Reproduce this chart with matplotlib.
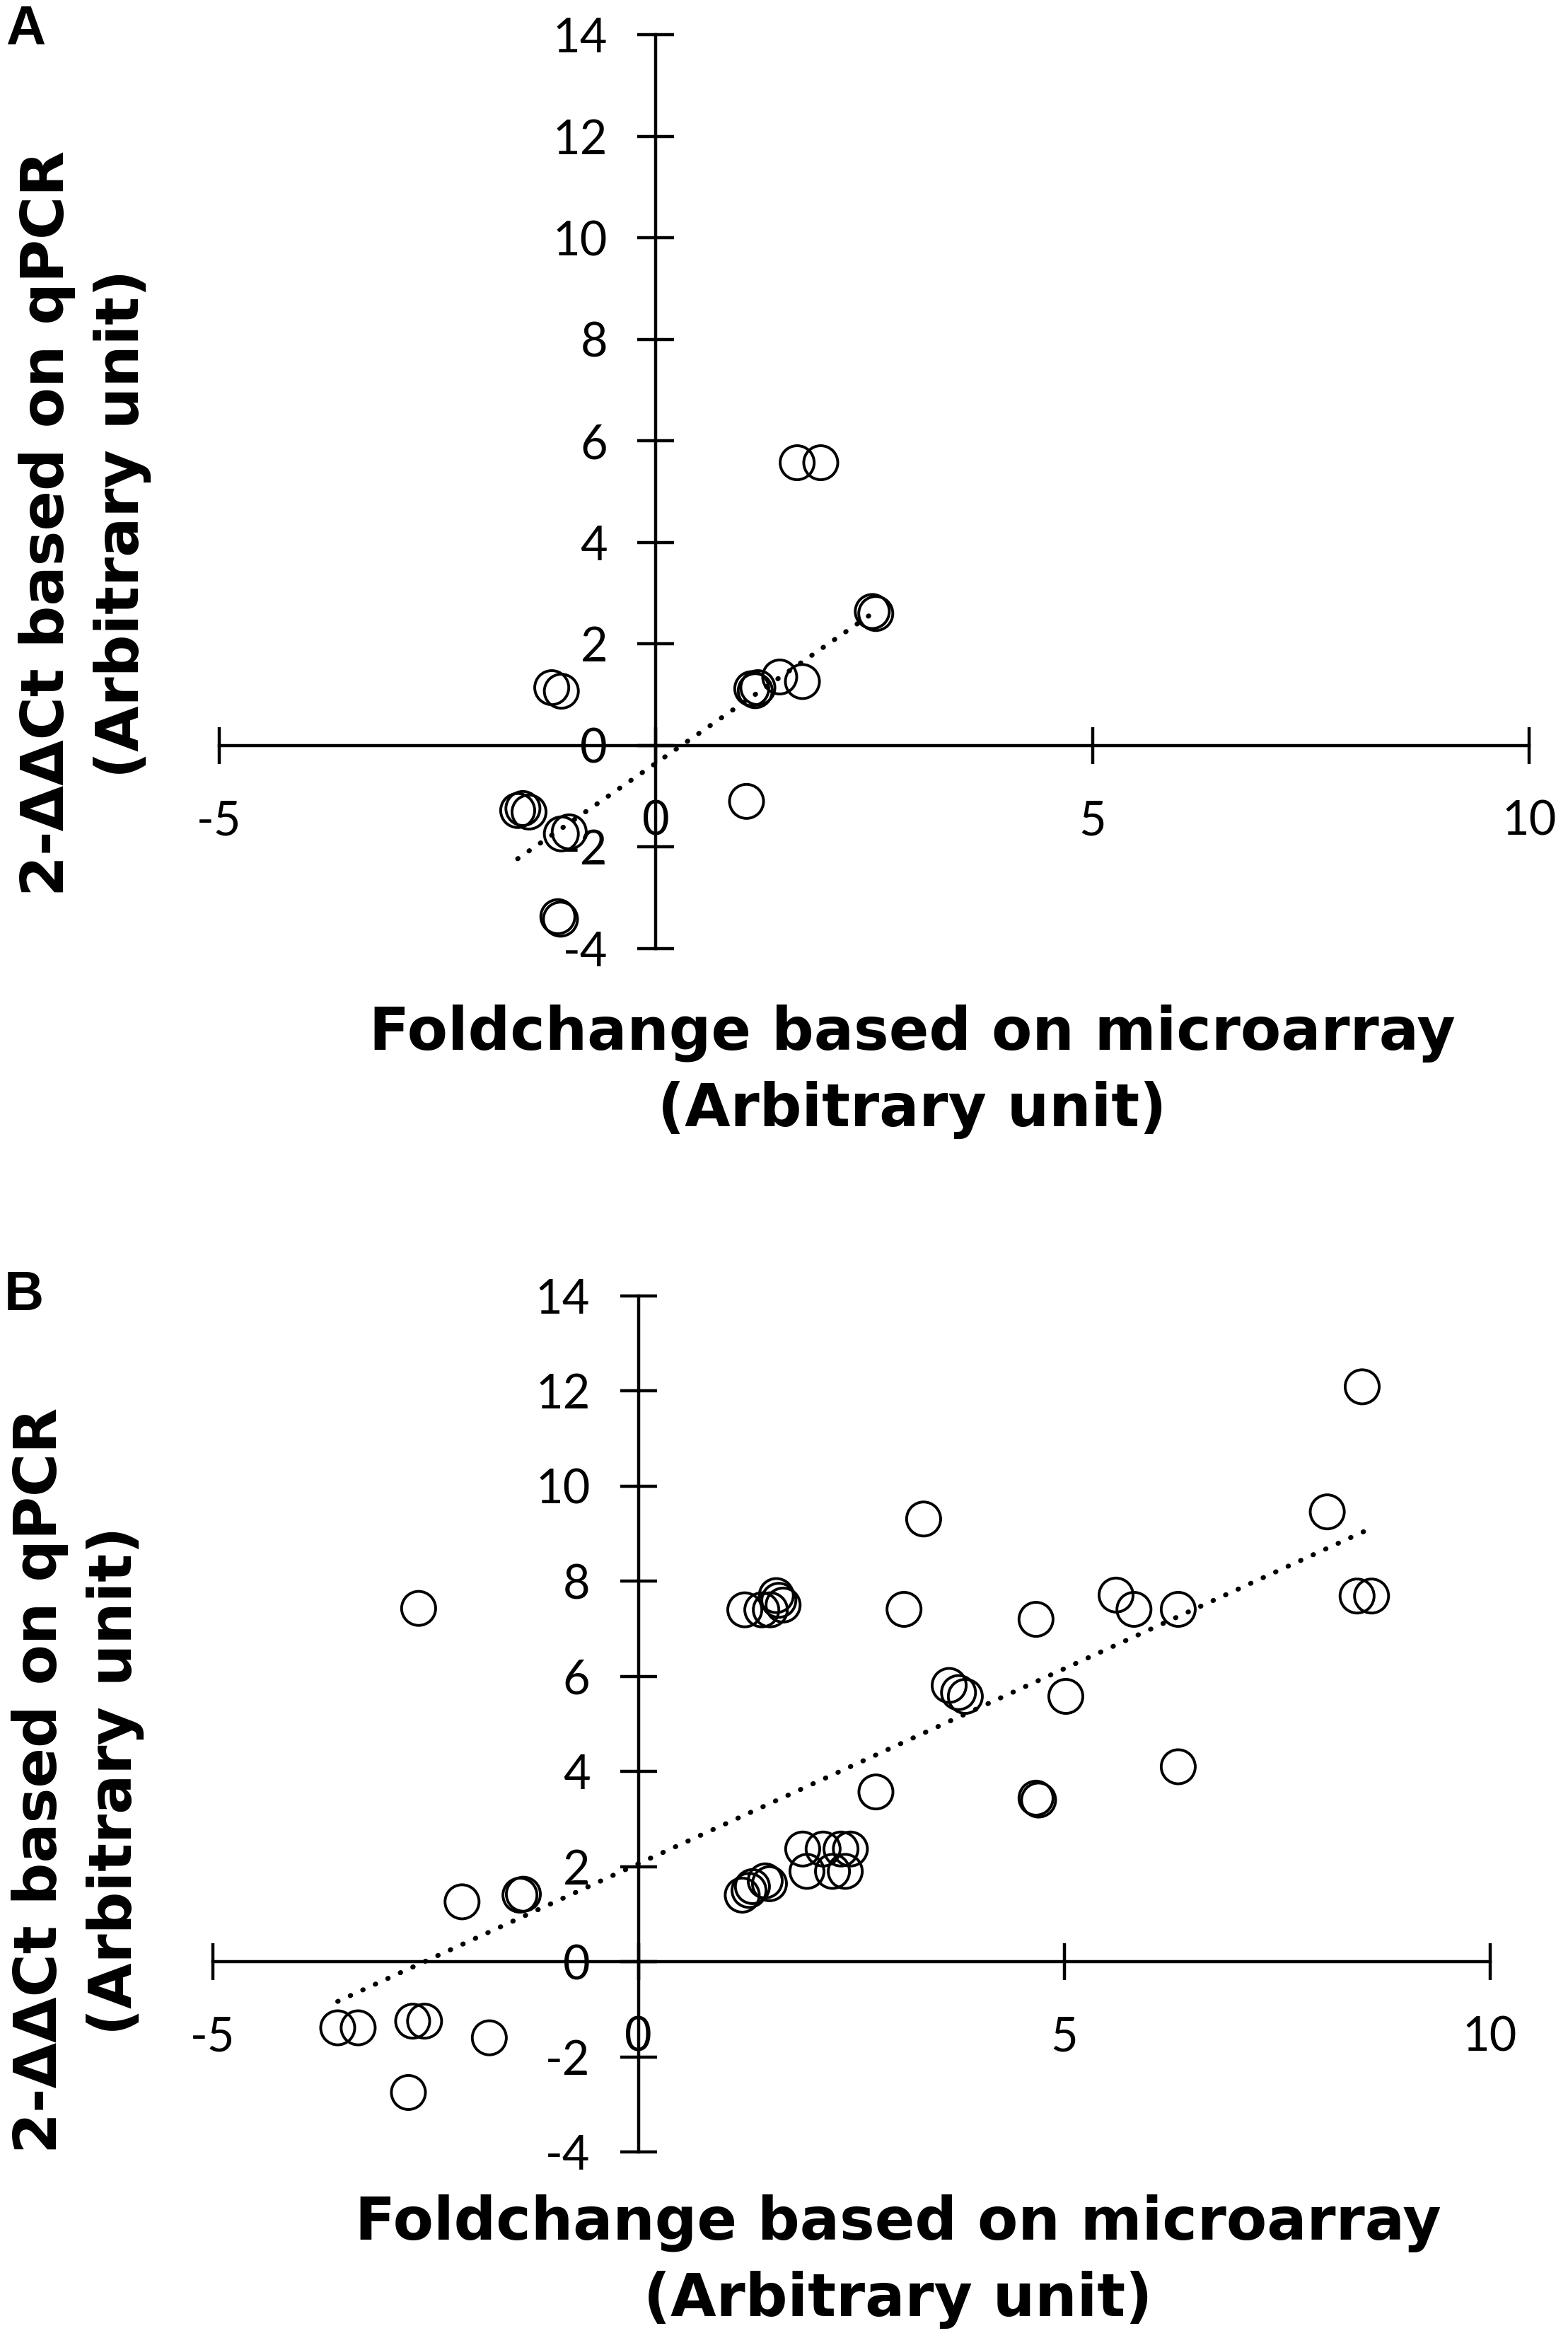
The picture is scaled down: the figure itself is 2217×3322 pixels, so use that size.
import numpy as np
import matplotlib
matplotlib.use("Agg")
import matplotlib.pyplot as plt

W, H = 2217, 3322

# panel A: microarray fold change vs qPCR 2-ddCt
a_x = [1.62, 1.89, 2.48, 2.52, 1.10, 1.14, 1.17, 1.42, 1.68, -1.19, -1.08, 1.04,
       -1.58, -1.52, -1.45, -1.08, -0.99, -1.12, -1.09]
a_y = [5.57, 5.57, 2.64, 2.60, 1.12, 1.08, 1.14, 1.35, 1.26, 1.14, 1.07, -1.10,
       -1.28, -1.24, -1.31, -1.74, -1.70, -3.37, -3.42]
a_trend = [1.19, -0.35]   # slope, intercept

# panel B
b_x = [-3.53, -3.29, -2.65, -2.51, -1.75, -2.70, -2.58, -2.07, -1.39, -1.35,
       1.25, 1.45, 1.55, 1.62, 1.65, 1.70, 1.22, 1.30, 1.34, 1.49, 1.54,
       1.93, 2.17, 2.38, 2.49, 1.98, 2.28, 2.43, 2.79, 3.35, 3.12,
       3.65, 3.76, 3.84, 5.02, 4.67, 4.70, 4.67, 5.61, 5.82, 6.34, 6.34,
       8.09, 8.50, 8.44, 8.61]
b_y = [-1.39, -1.39, -1.25, -1.25, -1.60, -2.75, 7.43, 1.26, 1.40, 1.42,
       7.40, 7.40, 7.40, 7.70, 7.60, 7.50, 1.40, 1.50, 1.58, 1.70, 1.64,
       2.37, 2.37, 2.37, 2.37, 1.90, 1.90, 1.90, 3.57, 9.31, 7.41,
       5.81, 5.66, 5.58, 5.58, 3.44, 3.40, 7.20, 7.71, 7.41, 7.41, 4.10,
       9.46, 12.09, 7.69, 7.69]
b_trend = [0.82, 2.06]

x_ticks = [-5, 0, 5, 10]
y_ticks = [-4, -2, 0, 2, 4, 6, 8, 10, 12, 14]

tick_font = ['Lato', 'DejaVu Sans']
label_font = ['DejaVu Sans']

fig = plt.figure(figsize=(W / 100, H / 100), dpi=100)


def panel(rect, xs, ys, trend):
    ax = fig.add_axes(rect)
    ax.set_xlim(-5, 10)
    ax.set_ylim(-4, 14)
    ax.patch.set_visible(False)
    for s in ['top', 'right']:
        ax.spines[s].set_visible(False)
    ax.spines['left'].set_position(('data', 0))
    ax.spines['bottom'].set_position(('data', 0))
    for s in ['left', 'bottom']:
        ax.spines[s].set_linewidth(3.2)
    ax.set_xticks(x_ticks)
    ax.set_yticks(y_ticks)
    ax.set_xticklabels([str(v) for v in x_ticks])
    ax.set_yticklabels([str(v) for v in y_ticks])
    ax.tick_params(direction='inout', length=38, width=3.2, labelsize=48)
    ax.tick_params(axis='x', pad=36)
    ax.tick_params(axis='y', pad=30)
    for lab in ax.get_xticklabels() + ax.get_yticklabels():
        lab.set_family(tick_font)
    ax.scatter(xs, ys, s=1200, facecolors='none', edgecolors='black',
               linewidths=2.8, zorder=3, clip_on=False)
    xx = np.array([min(xs), max(xs)])
    ax.plot(xx, trend[0] * xx + trend[1], color='black', lw=5,
            linestyle=(0, (0.1, 2.7)), dash_capstyle='round', zorder=2)
    return ax


axA = panel([309.6 / W, 1 - 1341 / H, (2162 - 309.6) / W, (1341 - 49) / H],
            a_x, a_y, a_trend)
axB = panel([300.5 / W, 1 - 3042 / H, (2106.6 - 300.5) / W, (3042 - 1832) / H],
            b_x, b_y, b_trend)

xlab = 'Foldchange based on microarray\n(Arbitrary unit)'
ylab = '2-ΔΔCt based on qPCR\n(Arbitrary unit)'

lab_kw = dict(ha='center', va='center', fontsize=60, fontweight='bold',
              family=label_font, linespacing=1.4)
fig.text(1290 / W, 1 - 1515 / H, xlab, **lab_kw)
fig.text(120 / W, 1 - 740 / H, ylab, rotation=90, **lab_kw)
fig.text(1270 / W, 1 - 3197 / H, xlab, **lab_kw)
fig.text(110 / W, 1 - 2517 / H, ylab, rotation=90, **lab_kw)

fig.text(8 / W, 1 - 6 / H, 'A', ha='left', va='top', fontsize=56,
         fontweight='bold', family='Liberation Sans')
fig.text(6 / W, 1 - 1795 / H, 'B', ha='left', va='top', fontsize=56,
         fontweight='bold', family='Liberation Sans')

fig.savefig('out.png', dpi=100, facecolor='white')
